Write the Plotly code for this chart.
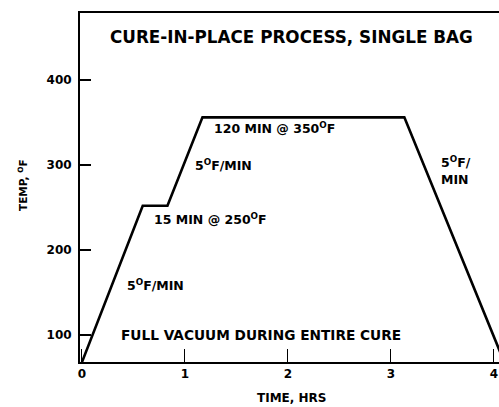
import plotly.graph_objects as go

# Cure cycle profile (time in hours, temperature in deg F)
time_hrs = [0.0, 0.59, 0.83, 1.17, 3.13, 4.10]
temp_f = [68, 252, 252, 356, 356, 68]

x_ticks = [0, 1, 2, 3, 4]
y_ticks = [100, 200, 300, 400]

title_text = "CURE-IN-PLACE PROCESS, SINGLE BAG"
notes = [
    ("120 MIN @ 350<sup>O</sup>F", 1.26, 343.5, 12.5),
    ("5<sup>O</sup>F/MIN", 1.075, 300, 12.5),
    ("15 MIN @ 250<sup>O</sup>F", 0.68, 236.5, 12.5),
    ("5<sup>O</sup>F/MIN", 0.417, 158.8, 12.5),
    ("FULL VACUUM DURING ENTIRE CURE", 0.36, 100, 13.7),
]
right_note = "5<sup>O</sup>F/<br>MIN"

FONT = "DejaVu Sans"

fig = go.Figure()
fig.add_trace(go.Scatter(x=time_hrs, y=temp_f, mode="lines",
                         line=dict(color="black", width=2.6),
                         hoverinfo="skip", showlegend=False))

for txt, x, y, sz in notes:
    fig.add_annotation(x=x, y=y, xref="x", yref="y", text=txt, showarrow=False,
                       xanchor="left", yanchor="middle",
                       font=dict(family=FONT, size=sz, color="black", weight="bold"))

fig.add_annotation(x=3.466, y=293.5, xref="x", yref="y", text=right_note, showarrow=False,
                   xanchor="left", yanchor="middle", align="left",
                   font=dict(family=FONT, size=12.5, color="black", weight="bold"))

fig.add_annotation(x=0.252, y=450.6, xref="x", yref="y", text=title_text, showarrow=False,
                   xanchor="left", yanchor="middle",
                   font=dict(family=FONT, size=16.8, color="black", weight="bold"))

fig.add_annotation(x=(22 - 80) / 419, y=(362 - 185) / 349, xref="paper", yref="paper",
                   text="TEMP, <sup>O</sup>F", textangle=-90, showarrow=False,
                   xanchor="center", yanchor="middle",
                   font=dict(family=FONT, size=10.5, color="black", weight="bold"))

fig.add_annotation(x=(291 - 80) / 419, y=(362 - 398) / 349, xref="paper", yref="paper",
                   text="TIME, HRS", showarrow=False,
                   xanchor="center", yanchor="middle",
                   font=dict(family=FONT, size=12, color="black", weight="bold"))

fig.update_layout(
    width=499, height=407,
    margin=dict(l=80, r=0, t=13, b=45),
    paper_bgcolor="white", plot_bgcolor="white",
    showlegend=False,
)
fig.update_xaxes(range=[-0.019, 4.049], tickvals=x_ticks, ticks="inside", ticklen=13,
                 tickwidth=1, tickcolor="black", showline=True, linecolor="black",
                 linewidth=2, mirror=True, showgrid=False, zeroline=False,
                 ticklabeloverflow="allow",
                 tickfont=dict(family=FONT, size=12, color="black", weight="bold"))
fig.update_yaxes(range=[68.2, 478.8], tickvals=y_ticks, ticks="inside", ticklen=11,
                 tickwidth=1.5, tickcolor="black", showline=True, linecolor="black",
                 linewidth=2, showgrid=False, zeroline=False, ticklabelstandoff=4,
                 tickfont=dict(family=FONT, size=12, color="black", weight="bold"))

fig.write_html("out.html", config={"displayModeBar": False, "staticPlot": True})

# remove the browser's default body margin so the figure sits at the page origin
with open("out.html", "r", encoding="utf-8") as f:
    html = f.read()
html = html.replace("<body>", '<body style="margin:0;padding:0;overflow:hidden">', 1)
with open("out.html", "w", encoding="utf-8") as f:
    f.write(html)
